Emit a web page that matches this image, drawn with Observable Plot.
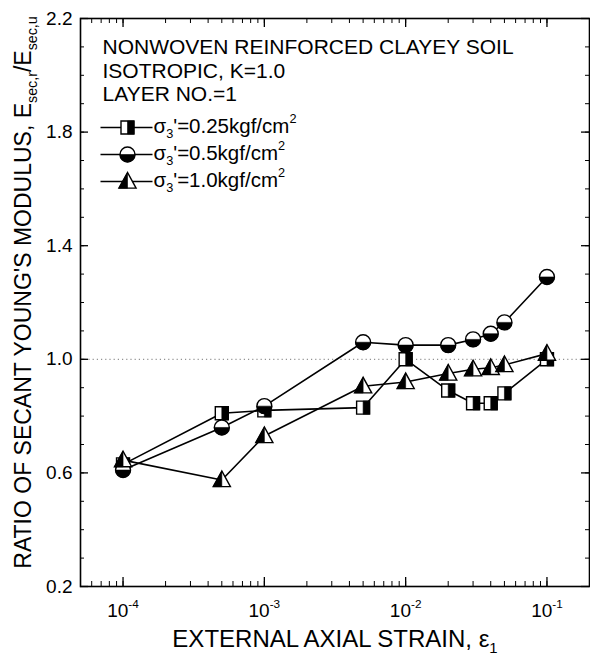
<!DOCTYPE html>
<html><head><meta charset="utf-8">
<script src="https://cdn.jsdelivr.net/npm/d3@7"></script>
<script src="https://cdn.jsdelivr.net/npm/@observablehq/plot@0.6"></script>
<style>body{margin:0;background:#fff}</style>
</head><body><div id="chart"></div>
<script>
// ---- data ----
const strain = [1e-4, 5e-4, 1e-3, 5e-3, 1e-2, 2e-2, 3e-2, 4e-2, 5e-2, 1e-1];
const ratioS025 = [0.63, 0.81, 0.82, 0.83, 1.00, 0.89, 0.845, 0.845, 0.88, 1.00];
const ratioS05  = [0.61, 0.76, 0.835, 1.06, 1.05, 1.05, 1.07, 1.09, 1.13, 1.29];
const ratioS10  = [0.645, 0.575, 0.73, 0.905, 0.92, 0.95, 0.965, 0.97, 0.98, 1.02];
const seriesLabels = ["σ_{3}'=0.25kgf/cm^{2}", "σ_{3}'=0.5kgf/cm^{2}", "σ_{3}'=1.0kgf/cm^{2}"];
const titleLines = ["NONWOVEN REINFORCED CLAYEY SOIL", "ISOTROPIC, K=1.0", "LAYER NO.=1"];
const yTickLabels = [0.2, 0.6, 1.0, 1.4, 1.8, 2.2];
const xTickLabels = [1e-4, 1e-3, 1e-2, 1e-1];
const xTitle = "EXTERNAL AXIAL STRAIN, ε_{1}";
const yTitle = "RATIO OF SECANT YOUNG'S MODULUS, E_{sec,r}/E_{sec,u}";
const referenceLine = [1.0];

// ---- derived ----
const xDomain = [5e-5, 0.2];
const yDomain = [0.2, 2.2];
const yMinor = d3.range(2, 23).map(i => i / 10);
const xMinor = [];
for (let e = -5; e <= -1; e++) for (let k = 1; k <= 9; k++) {
  const v = k * Math.pow(10, e);
  if (v > xDomain[0] && v < xDomain[1] * 0.999) xMinor.push(v);
}
const rows = (vals) => strain.map((x, i) => ({x, y: vals[i]}));
const s1 = rows(ratioS025), s2 = rows(ratioS05), s3 = rows(ratioS10);

const W = 590, H = 657, mL = 80, mR = 1, mT = 18, mB = 71;
const innerW = W - mL - mR, innerH = H - mT - mB;

const sym = fn => ({draw(c, size) { const r = Math.sqrt(size / Math.PI); fn(c, r); }});
const squareFull = sym((c, r) => c.rect(-r, -r, 2 * r, 2 * r));
const squareHalf = sym((c, r) => c.rect(0, -r, r, 2 * r));
const circleFull = sym((c, r) => { c.moveTo(r, 0); c.arc(0, 0, r, 0, 2 * Math.PI); });
const circleHalf = sym((c, r) => { c.moveTo(r, 0); c.arc(0, 0, r, 0, Math.PI); c.closePath(); });
const triFull = sym((c, r) => { c.moveTo(0, -1.15 * r); c.lineTo(-1.1 * r, 0.85 * r); c.lineTo(1.1 * r, 0.85 * r); c.closePath(); });
const triHalf = sym((c, r) => { c.moveTo(0, -1.15 * r); c.lineTo(-1.1 * r, 0.85 * r); c.lineTo(0, 0.85 * r); c.closePath(); });
const hline = {draw(c) { c.moveTo(-26, 0); c.lineTo(26, 0); }};

const styles = [
  {full: squareFull, half: squareHalf, r: 6.5},
  {full: circleFull, half: circleHalf, r: 7.5},
  {full: triFull, half: triHalf, r: 7.8}
];
const series = [s1, s2, s3];

const marks = [];
marks.push(Plot.ruleY(referenceLine, {stroke: "#777", strokeDasharray: "1.2,3", strokeWidth: 1}));
// ticks (inward)
marks.push(Plot.tickY(yMinor, {y: d => d, insetRight: innerW - 4, stroke: "black"}));
marks.push(Plot.tickY(yTickLabels, {y: d => d, insetRight: innerW - 8, stroke: "black", strokeWidth: 1.3}));
marks.push(Plot.tickY(yMinor, {y: d => d, insetLeft: innerW - 4, stroke: "black"}));
marks.push(Plot.tickY(yTickLabels, {y: d => d, insetLeft: innerW - 8, stroke: "black", strokeWidth: 1.3}));
marks.push(Plot.tickX(xMinor, {x: d => d, insetTop: innerH - 5, stroke: "black"}));
marks.push(Plot.tickX(xTickLabels, {x: d => d, insetTop: innerH - 9, stroke: "black", strokeWidth: 1.3}));
marks.push(Plot.tickX(xMinor, {x: d => d, insetBottom: innerH - 5, stroke: "black"}));
marks.push(Plot.tickX(xTickLabels, {x: d => d, insetBottom: innerH - 9, stroke: "black", strokeWidth: 1.3}));
marks.push(Plot.frame({stroke: "black", strokeWidth: 1.6}));
// tick labels
marks.push(Plot.axisY({ticks: yTickLabels, tickSize: 0, tickPadding: 8, tickFormat: d3.format(".1f"), label: null, fontSize: 19}));
marks.push(Plot.axisX({ticks: xTickLabels, tickSize: 0, tickPadding: 17, tickFormat: d => `10^{${Math.round(Math.log10(d))}}`, label: null, fontSize: 19}));
// series lines
series.forEach(s => marks.push(Plot.line(s, {x: "x", y: "y", stroke: "black", strokeWidth: 1.6})));
// series markers
series.forEach((s, i) => {
  const st = styles[i];
  marks.push(Plot.dot(s, {x: "x", y: "y", symbol: st.full, r: st.r, fill: "white", stroke: "black", strokeWidth: 1.4}));
  marks.push(Plot.dot(s, {x: "x", y: "y", symbol: st.half, r: st.r, fill: "black", stroke: "black", strokeWidth: 0.6}));
});
// title block
marks.push(Plot.text([titleLines.join("\n")], {frameAnchor: "top-left", dx: 22, dy: 19, lineAnchor: "top", textAnchor: "start", lineHeight: 1.12, fontSize: 21}));
// legend
seriesLabels.forEach((lab, i) => {
  const st = styles[i];
  const dyLine = 109 + 27 * i;
  marks.push(Plot.dot([lab], {frameAnchor: "top-left", dx: 46, dy: dyLine, symbol: hline, r: 5, fill: "none", stroke: "black", strokeWidth: 1.5}));
  marks.push(Plot.dot([lab], {frameAnchor: "top-left", dx: 47, dy: dyLine, symbol: st.full, r: st.r, fill: "white", stroke: "black", strokeWidth: 1.4}));
  marks.push(Plot.dot([lab], {frameAnchor: "top-left", dx: 47, dy: dyLine, symbol: st.half, r: st.r, fill: "black", stroke: "black", strokeWidth: 0.6}));
  marks.push(Plot.text([lab], {frameAnchor: "top-left", dx: 73, dy: dyLine + 5, lineAnchor: "bottom", textAnchor: "start", fontSize: 20.5}));
});
// axis titles
marks.push(Plot.text([xTitle], {frameAnchor: "bottom", dy: 60, lineAnchor: "bottom", textAnchor: "middle", fontSize: 24}));
marks.push(Plot.text([yTitle], {frameAnchor: "left", dx: -57, dy: -10, rotate: -90, lineAnchor: "middle", textAnchor: "middle", fontSize: 23}));

const chart = Plot.plot({
  width: W, height: H,
  marginLeft: mL, marginRight: mR, marginTop: mT, marginBottom: mB,
  x: {type: "log", domain: xDomain},
  y: {domain: yDomain},
  style: {fontFamily: "'Liberation Sans', Arial, sans-serif", background: "white", color: "black", overflow: "visible"},
  marks
});

function applyMarkup(root) {
  const NS = "http://www.w3.org/2000/svg";
  root.querySelectorAll("text, tspan").forEach(el => {
    if (el.childNodes.length !== 1 || el.firstChild.nodeType !== 3) return;
    const s = el.textContent;
    if (!/[_^]\{/.test(s)) return;
    el.textContent = "";
    const re = /([_^])\{([^}]*)\}/g;
    let last = 0, m, pendingReset = null;
    const add = (t, kind) => {
      const ts = document.createElementNS(NS, "tspan");
      ts.textContent = t;
      if (kind) {
        ts.setAttribute("font-size", "0.62em");
        const shift = kind === "_" ? 0.45 : -0.75;
        ts.setAttribute("dy", shift + "em");
        pendingReset = -shift * 0.62;
      } else if (pendingReset !== null) {
        ts.setAttribute("dy", pendingReset + "em");
        pendingReset = null;
      }
      el.appendChild(ts);
    };
    while ((m = re.exec(s))) {
      if (m.index > last) add(s.slice(last, m.index));
      add(m[2], m[1]);
      last = re.lastIndex;
    }
    if (last < s.length) add(s.slice(last));
  });
}
applyMarkup(chart);
document.getElementById("chart").appendChild(chart);
</script>
</body></html>
